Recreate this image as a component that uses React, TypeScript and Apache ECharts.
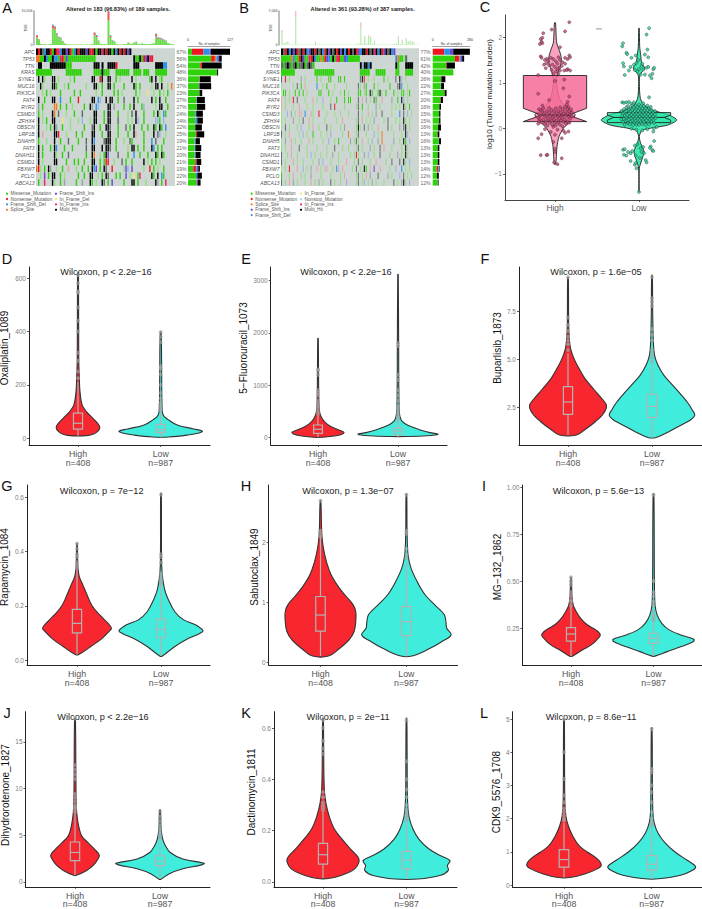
import React, { useEffect, useRef } from "react";
import * as echarts from "echarts";

// ---------- Oncoplot data ----------
const genesA = ["APC","TP53","TTN","KRAS","SYNE1","MUC16","PIK3CA","FAT4","RYR2","CSMD3","ZFHX4","OBSCN","LRP1B","DNAH5","FAT3","DNAH11","CSMD1","FBXW7","PCLO","ABCA13"];
const pctA = ["67%","56%","54%","48%","36%","37%","23%","27%","27%","24%","24%","22%","25%","19%","21%","20%","21%","19%","22%","20%"];
const pctB = ["77%","61%","42%","40%","26%","22%","27%","20%","16%","15%","15%","16%","13%","16%","13%","13%","13%","14%","12%","12%"];

const matrixA = [
  "xnxgdxxnmxnpdxxixnmdxnxxxixnnxmxxpxnxxmxdxnxnxix",
  "ssmmxdmmxddmpnmimmmmmmmmmmmmmm...................xmmxmnixpn",
  ".xx....xxxxxxxxmmm...........xxx.x..xxxxn........xxx........xxxxdd",
  "mmmmmmmm.......mmmmmmmm......mmmmxmmm...mmmmmmm..mmmm.mmm...mmmmmm",
  ".x.xl...xx.l.....l.m........xx..nx..xx..m.l.....x.l......mx.x.lm",
  "..xl....xxm...l.m........l...xxl.m..xx.m....m....xm.m.....l.xx.x..l.s",
  "...l.m.l....m......m..m.......l..m.....m.m.l......m.l...y..l..m.l.m..",
  ".x..m...xx..d....m...n......xx.db..x.xx..m..g....x.m......x.m.x..m",
  ".h.m.....ss.m..m..l.....m..xh.db....xx.h....m..m.x...mb.....l.xx..m.",
  ".m.l....xs.g...l...m...g.....xx...m.xx...m....l.g.x...m....m.xl.dm..",
  ".x.l.m..xx...y...l...l.b...l.xx...m.xx...g....l.l.xb..m.....bbm.b..",
  ".x...l.m.xh..m...l......m...gx..m..xxg...m...g.m.x...m..m..xm.xm.d.",
  ".x.r.....xxn...l....m..m....xx...m..xx...m....m..xr...m....x.gb..l.",
  ".m...l...x..m...g....m...g..xd....gxxx..m...l..gm.....m...d.g...m..",
  ".x.m...m.xd...m...m......g..xx...x.xxg..m.....l.xx.m..m...xd.m.m...",
  ".x.m.....xl..m..g........m..xs..l.mxi....g....m..d..m...m...xm.xm..",
  ".x.l.....xx....m...m.m..m...xx..m.mnn..l...g.m..m.....x.l.m.m.l....",
  "snl.m.xh..l..m..r...l..m..m.xdi.m.xg..n.....lib.i.....l..n.m.l..m..",
  "..l.i.m.xx..m.l......m..m..xx..l.m.xg...m.m..i.l.y.mp.....xm.x.dm..",
  ".m..p...xl..m.h.....m..h...xm.l..xg.m.i.....m...xx.m...l....xh.m.p.",
];

const matrixB = [
  "xgnxdxixngxnxdixxnxgxdnxixgxnxixdxnxgxnidxxnxgxpxdxnixgxdi",
  "mmmmmsdmmnximmpnxdmmsmnidmxmpnmmidmmmmmm..................dsmmlg",
  "gmgxgmgxmggxmgxgm.......................xbxxdx............xm...xxxx",
  "mmmmmmm..........mmmmmmmmmm.............mmmmm...mmmmm.....mm...mmmm",
  "g.n.l.....h.l.....m.l...mm...mm.m.......gxn.l..l....m.l...g.xb.l...",
  "l.....l.g.m.r.....d..l.m...l.....l.....gl.hm...m.l.....m...gxd..l..",
  ".mm.l..m.m.m.l.....mm...m.l...l.m.l....mm.lm.xm..mxl.m...m.l.mm.lm.",
  "r.l.l.n.g...l...r.l..b...l..m...m.mm...g.r.h.l.gm..r....h..m.xb.l..",
  "r.l...l..r...l..l....l...g.n....l.....lg.m..l...h.l.....l.l.l.xl.m.",
  "l..b.h.l.rr.d..rl..n...l...l..l...l....g.l..r.l.h..g....l...d.g.b.l",
  "l.l...h..l.g..r.l.....l.....l..r......lg.r.l.l.h....l.g...l.l.xl.l.",
  "l.g.l...l.b...l.r..l...g.l....l.h.....lxl.g.h.l..r....g.l...h.gx.l.",
  "g.l.r....l.b.l..m...l..l.q.....l..s...lg...l...b.l.s.....l...l.xb..",
  "l.h..r.l..l...r.l....l..b..l.m.....h.lgl.r..l.b..h.s.....h..l.xm.b.",
  "l.l..r...g...l....l....l...g...l..l...lg.l...h.l..g.r...l....l.xl..",
  "g..l.r..l....l.b.l..l..l..h..l.....l.lnl..h.b..l..g....l...h.l.xl..",
  "g.l...r.l..l....l..h.b...l...l...r...l.g.l...l..r....l..g...g.xl.b.",
  "l.l.n...r..b.l.h..r.l.rr..l.dr.r....l.g.l.xm.r.i..r....l..b..d.l.l.",
  "m...l.r...l.l..h....l....l....l.r.....lg.l.r.h...g....h.l...b.g.l.l",
  "g.l.r.h.l...l..r.l.h.l...g.l..l..q....lg.lb.l.h.l...l....g.l.hxl.q.",
];

const mutationPalette: Record<string, string> = {
  m: "#2fd10a", l: "#93e07f", n: "#ee1522", d: "#2a8fe6", i: "#6a45d6", s: "#f07a1e", y: "#ecec6a",
  p: "#e8206f", x: "#000000", g: "#5f6a66", h: "#98a3a0", b: "#93b4e6", r: "#e3a6a6", q: "#aea2e0",
};

const tmbAMissense = [2300,1500,300,200,250,150,200,300,5200,4800,3200,2400,2000,1100,500,250,200,150,150,200,150,150,200,150,150,200,150,200,300,3000,2400,1200,400,300,300,250,7600,2400,1300,1100,300,200,150,150,300,250,700,350,400,700,900,300,250,500,300,300,250,300,400,500,2600,1900,2000,1700,1500,1200,600,300,250,150];
const tmbANonsense = [700,200,0,0,0,0,0,0,900,700,300,100,100,50,0,0,0,0,0,0,0,0,0,0,0,0,0,0,0,800,400,100,0,0,0,0,2700,400,100,50,0,0,0,0,0,0,50,0,0,50,50,0,0,0,0,0,0,0,0,0,800,300,200,150,100,100,0,0,0,0];
const tmbADel = [100,50,0,0,0,0,0,0,200,300,200,100,200,100,0,0,0,0,0,0,0,0,0,0,0,0,0,0,0,100,300,100,0,0,0,0,200,200,100,100,0,0,0,0,0,0,50,0,0,50,100,0,0,0,0,0,0,0,0,0,100,200,100,200,100,100,0,0,0,0];
const tmbBMissense = [2500,300,500,600,150,100,100,5800,150,100,80,100,100,80,100,100,150,600,100,80,100,80,100,80,100,100,80,100,80,100,80,100,80,100,80,100,80,100,200,300,3600,300,1700,300,1800,1500,250,700,150,100,100,150,100,150,100,100,150,200,300,1400,200,900,150,1200,600,700,600,500,100,80];
const tmbBNonsense = [500,50,50,50,0,0,0,1200,0,0,0,0,0,0,0,0,0,50,0,0,0,0,0,0,0,0,0,0,0,0,0,0,0,0,0,0,0,0,0,0,1000,0,200,0,250,200,0,100,0,0,0,0,0,0,0,0,0,0,0,150,0,100,0,150,50,50,50,50,0,0];
const tmbBDel = [100,0,0,0,0,0,0,60,0,0,0,0,0,0,0,0,0,0,0,0,0,0,0,0,0,0,0,0,0,0,0,0,0,0,0,0,0,0,0,0,60,0,30,0,30,30,0,20,0,0,0,0,0,0,0,0,0,0,0,200,0,100,0,100,120,120,100,80,0,0];

const samplesAMissense = [12,70,37,88,35,33,35,25,27,22,22,22,24,20,20,20,22,16,24,25];
const samplesANonsense = [35,11,5,0,1,0,0,0,0,0,0,0,3,0,0,0,4,8,0,1];
const samplesASplice = [0,5,0,0,0,0,0,0,0,0,0,0,0,0,0,0,0,0,0,0];
const samplesADel = [18,5,0,0,0,0,0,2,0,3,6,0,0,3,2,3,0,2,4,0];
const samplesAIns = [4,3,0,0,0,2,0,0,0,0,0,0,0,0,0,0,0,5,0,3];
const samplesAMulti = [58,8,60,3,33,35,8,24,25,20,17,20,22,13,18,15,14,5,14,9];
const samplesBMissense = [0,167,100,155,62,60,90,58,50,48,48,40,35,45,38,38,38,30,32,38];
const samplesBNonsense = [87,30,5,0,3,0,0,2,0,0,0,0,3,0,0,0,0,12,0,0];
const samplesBSplice = [0,6,0,0,0,0,0,0,0,0,0,0,0,0,0,0,0,0,0,0];
const samplesBDel = [42,8,0,0,0,3,0,0,0,0,0,0,0,2,0,0,0,4,0,0];
const samplesBIns = [25,10,0,0,0,0,0,0,0,0,0,0,0,0,0,0,0,5,0,4];
const samplesBMulti = [125,15,62,0,30,22,14,17,12,10,10,22,12,15,12,12,12,3,14,4];

const legendA = [["Missense_Mutation","m"],["Nonsense_Mutation","n"],["Frame_Shift_Del","d"],["Splice_Site","s"],["Frame_Shift_Ins","i"],["In_Frame_Del","y"],["In_Frame_Ins","p"],["Multi_Hit","x"]];
const legendB = [["Missense_Mutation","m"],["Nonsense_Mutation","n"],["Splice_Site","s"],["Frame_Shift_Ins","i"],["Frame_Shift_Del","d"],["In_Frame_Del","y"],["Nonstop_Mutation","b"],["In_Frame_Ins","p"],["Multi_Hit","x"]];

// ---------- Panel C data ----------
const tmbHighProfile = [[-0.79,0.008],[-0.62,0.016],[-0.4,0.024],[-0.18,0.048],[0,0.1],[0.15,0.18],[0.3,0.24],[0.4,0.16],[0.63,0.06],[0.85,0.028],[1.07,0.02],[1.25,0.04],[1.43,0.072],[1.58,0.072],[1.73,0.048],[1.88,0.02],[2.1,0.012],[2.32,0.006]];
const tmbLowProfile = [[-1.4,0.002],[-0.88,0.004],[-0.7,0.032],[-0.51,0.06],[-0.33,0.02],[-0.18,0.004],[-0.04,0.04],[0.07,0.34],[0.18,0.45],[0.29,0.36],[0.4,0.16],[0.51,0.06],[0.66,0.016],[0.99,0.004],[1.18,0.012],[1.32,0.068],[1.43,0.032],[1.62,0.02],[1.8,0.008],[2.2,0.003]];
const tmbHighBox = [0.147, 0.147, 0.29, 0.44, 1.16];
const tmbLowBox = [0.125, 0.18, 0.24, 0.29, 0.345];
const tmbHighJitter = [[.17,2.33],[-.14,2.09],[-.04,2.17],[.12,2.13],[.06,1.78],[-.17,1.96],[-.16,1.9],[-.15,1.87],[-.18,1.85],[-.15,1.99],[-.17,1.58],[-.16,1.55],[-.12,1.5],[-.1,1.53],[-.08,1.48],[-.05,1.55],[-.02,1.52],[.01,1.47],[.04,1.56],[.06,1.5],[.09,1.45],[.12,1.55],[.17,1.6],[.18,1.56],[.15,1.52],[-.13,1.4],[-.1,1.43],[-.07,1.38],[-.03,1.4],[0,1.35],[.03,1.42],[.05,1.33],[.08,1.37],[.12,1.42],[.15,1.3],[-.11,1.32],[-.04,1.28],[.01,1.25],[.03,1.3],[.06,1.27],[.11,1.27],[.14,1.28],[.18,1.27],[-.02,1.2],[.04,1.2],[-.2,1.17],[0,1.04],[.11,1.07],[.1,.88],[-.2,.76],[-.07,.62],[.17,.7],[.15,.58],[.14,.52],[.16,.47],[-.15,.5],
[-.19,.42],[-.17,.4],[-.15,.36],[-.19,.31],[-.17,.28],[-.2,.24],[-.18,.2],[-.19,.15],[-.16,.13],[-.2,.1],[-.14,.44],[-.13,.33],[-.12,.26],[-.14,.19],[-.12,.1],[-.1,.38],[-.1,.29],[-.09,.21],[-.11,.14],[-.09,.06],[-.07,.45],[-.07,.35],[-.06,.27],[-.07,.19],[-.06,.12],[-.04,.4],[-.04,.31],[-.03,.23],[-.04,.16],[-.03,.07],[-.02,.03],[-.01,.37],[0,.28],[-.01,.2],[0,.12],[.01,.44],[.02,.33],[.03,.25],[.02,.16],[.01,.06],[.04,.38],[.05,.29],[.05,.21],[.04,.12],[.06,.46],[.07,.35],[.08,.27],[.07,.17],[.06,.08],[.09,.42],[.1,.32],[.09,.23],[.1,.14],[.09,.04],[.12,.47],[.12,.37],[.13,.28],[.12,.19],[.13,.1],[.15,.43],[.15,.33],[.16,.25],[.15,.15],[.17,.38],[.18,.3],[.18,.22],[.19,.42],[.2,.35],[.2,.27],[.17,.12],
[-.2,-.22],[-.16,-.13],[-.17,-.59],[-.1,-.59],[-.09,-.58],[.08,-.66],[.03,-.79],[-.01,-.75],[.16,-.07],[.12,-.1],[.08,-.22],[.1,-.05],[-.12,-.02],[-.05,-.08],[0,-.14],[.03,-.03],[-.02,-.3],[0,-.45],[0,-.52]];
const tmbLowJitter = [[-.19,1.87],[-.2,1.8],[-.15,1.66],[-.14,1.63],[-.09,1.55],[-.04,1.6],[.09,2.06],[.12,2.2],[.1,1.73],[.07,1.62],[.11,1.56],[-.19,1.43],[-.18,1.36],[-.17,1.17],[.17,1.3],[.18,1.33],[.16,1.2],[.15,1.1],[.13,1.16],[.11,1.35],[.09,1.33],[-.1,1.35],[-.06,1.4],[-.03,1.44],[0,1.3],[-.02,1.25],[.03,1.37],[.05,1.29],[.02,1.18],[-.05,1.28],[.07,1.18],[-.12,1.27],[.04,1.42],[-.01,1.5],
[-.2,.57],[-.18,.56],[-.15,.57],[-.12,.58],[-.09,.54],[-.06,.57],[.12,.68],[.05,.55],[.1,.5],[-.21,.38],[-.19,.33],[-.2,.27],[-.21,.2],[-.19,.14],[-.18,.42],[-.17,.36],[-.17,.28],[-.18,.21],[-.16,.16],[-.17,.08],[-.15,.46],[-.15,.38],[-.14,.3],[-.15,.24],[-.14,.17],[-.13,.11],[-.13,.49],[-.12,.41],[-.12,.33],[-.11,.25],[-.12,.19],[-.11,.09],[-.1,.44],[-.1,.37],[-.09,.29],[-.09,.22],[-.1,.14],[-.08,.5],[-.08,.41],[-.07,.34],[-.07,.26],[-.08,.17],[-.07,.07],[-.06,.46],[-.05,.38],[-.05,.3],[-.05,.22],[-.06,.13],[-.04,.5],[-.03,.42],[-.03,.33],[-.03,.25],[-.04,.16],[-.03,.08],[-.02,.47],[-.01,.38],[-.01,.3],[-.01,.21],[-.02,.12],[0,.52],[.01,.43],[.01,.34],[.01,.26],[.01,.18],[0,.08],[.02,.48],[.03,.39],[.03,.29],[.03,.22],[.02,.13],[.04,.44],[.05,.35],[.05,.27],[.05,.18],[.04,.09],[.06,.49],[.07,.4],[.07,.31],[.07,.23],[.06,.14],[.08,.44],[.09,.35],[.09,.26],[.09,.17],[.08,.07],[.1,.4],[.11,.31],[.11,.22],[.11,.13],[.12,.44],[.13,.36],[.13,.27],[.13,.19],[.12,.09],[.15,.4],[.15,.31],[.15,.22],[.15,.14],[.17,.35],[.17,.26],[.17,.18],[.19,.3],[.2,.23],[.18,.12],[.19,.38],[.14,.47],[.21,.03],[.18,.0],[.17,-.07],[.1,-.02],[-.03,-.03],[-.09,-.01],[.04,-.05],[.18,-.28],[.14,-.4],[.13,-.43],[.16,-.48],[.17,-.5],
[-.19,-.47],[-.17,-.46],[-.18,-.58],[-.13,-.52],[-.1,-.55],[-.08,-.5],[-.05,-.38],[-.02,-.35],[.02,-.44],[.05,-.41],[-.04,-.6],[.01,-.65],[.06,-.55],[-.1,-.72],[-.05,-.8],[-.04,-.76],[-.03,-.88],[.08,-.7],[.09,-.75],[.0,-1.4],[-.15,-.6],[.03,-.52]];

// ---------- Drug violin data: [drug value, half width] ----------
const oxaliplatinHigh = [[10,0.1],[15,0.18],[25,0.235],[40,0.264],[55,0.24],[75,0.18],[100,0.1],[125,0.05],[175,0.024],[225,0.016],[300,0.009],[600,0.006],[620,0.002]];
const oxaliplatinLow = [[5,0.1],[12,0.32],[20,0.465],[27,0.504],[35,0.4],[50,0.2],[70,0.09],[87,0.03],[125,0.016],[225,0.012],[398,0.006]];
const oxaliplatinHighBox = [10,34,56,94,212];
const oxaliplatinLowBox = [5,22,32,52,100];
const oxaliplatinHighOut = [225,250,290,320,400,440,490,545,550,580,610];
const oxaliplatinLowOut = [105,115,125,135,150,170,200,240,260,270,360,380,398];

const fluorouracilHigh = [[0,0.05],[25,0.2],[60,0.3],[96,0.325],[140,0.26],[205,0.16],[300,0.08],[395,0.04],[490,0.02],[750,0.01],[1895,0.003]];
const fluorouracilLow = [[15,0.1],[30,0.36],[57,0.5],[90,0.4],[140,0.28],[205,0.16],[270,0.08],[330,0.04],[490,0.016],[1770,0.008],[3120,0.003]];
const fluorouracilHighBox = [0,76,153,236,427];
const fluorouracilLowBox = [0,45,121,179,330];
const fluorouracilHighOut = [450,500,550,600,650,700,800,850,900,1200,1280,1300];
const fluorouracilLowOut = [350,400,450,500,550,600,700,800,900,1100,1200,1750,1800];

const buparlisibHigh = [[1.08,0.1],[1.42,0.22],[1.77,0.325],[2.12,0.41],[2.47,0.455],[2.67,0.455],[2.99,0.4],[3.5,0.3],[4.03,0.2],[4.55,0.13],[5.07,0.07],[5.59,0.03],[6.1,0.016],[6.8,0.008],[9.3,0.004]];
const buparlisibLow = [[0.95,0.05],[1.25,0.2],[1.6,0.35],[1.9,0.47],[2.12,0.51],[2.38,0.48],[2.73,0.43],[3.16,0.35],[3.68,0.245],[4.2,0.14],[4.72,0.07],[5.24,0.03],[5.94,0.016],[7.5,0.008],[9.4,0.004]];
const buparlisibHighBox = [1.08,2.15,2.8,3.6,5.33];
const buparlisibLowBox = [0.95,2.0,2.57,3.2,4.8];
const buparlisibHighOut = [5.5,5.8,6.0,6.2,6.5,6.8,7.2,9.3];
const buparlisibLowOut = [4.9,5.1,5.3,5.5,6,6.3,6.6,7.8,8,8.2,9.3];

const rapamycinHigh = [[0.02,0.02],[0.05,0.165],[0.08,0.3],[0.105,0.38],[0.117,0.41],[0.135,0.37],[0.166,0.27],[0.2,0.18],[0.24,0.12],[0.277,0.07],[0.31,0.025],[0.36,0.009],[0.43,0.004]];
const rapamycinLow = [[0.015,0.016],[0.05,0.165],[0.08,0.33],[0.098,0.46],[0.108,0.5],[0.13,0.41],[0.148,0.27],[0.178,0.165],[0.228,0.08],[0.264,0.04],[0.326,0.012],[0.4,0.006],[0.615,0.004]];
const rapamycinHighBox = [0.02,0.1,0.135,0.187,0.335];
const rapamycinLowBox = [0.015,0.082,0.113,0.151,0.277];
const rapamycinHighOut = [0.34,0.35,0.36,0.38,0.39,0.41,0.43];
const rapamycinLowOut = [0.28,0.29,0.3,0.31,0.32,0.36,0.38,0.39,0.61];

const sabutoclaxHigh = [[0.105,0.093],[0.23,0.22],[0.37,0.33],[0.51,0.39],[0.68,0.41],[0.85,0.41],[0.96,0.38],[1.1,0.3],[1.24,0.22],[1.46,0.125],[1.68,0.07],[1.9,0.035],[2.13,0.016],[2.71,0.004]];
const sabutoclaxLow = [[0.105,0.065],[0.23,0.27],[0.345,0.41],[0.457,0.52],[0.57,0.47],[0.68,0.46],[0.8,0.44],[0.96,0.33],[1.125,0.22],[1.35,0.125],[1.57,0.055],[1.79,0.02],[2.18,0.008],[2.82,0.004]];
const sabutoclaxHighBox = [0.105,0.52,0.79,1.1,2.1];
const sabutoclaxLowBox = [0.1,0.445,0.68,0.93,1.68];
const sabutoclaxHighOut = [2.1,2.15,2.2,2.7];
const sabutoclaxLowOut = [1.75,1.8,1.9,2.15,2.2,2.8];

const mg132High = [[0.1,0.016],[0.133,0.137],[0.16,0.245],[0.186,0.31],[0.213,0.355],[0.24,0.3],[0.266,0.2],[0.3,0.12],[0.337,0.065],[0.372,0.027],[0.425,0.011],[0.52,0.005]];
const mg132Low = [[0.1,0.016],[0.124,0.165],[0.15,0.33],[0.177,0.48],[0.19,0.49],[0.213,0.33],[0.24,0.19],[0.275,0.1],[0.32,0.044],[0.372,0.019],[0.5,0.011],[0.966,0.005]];
const mg132HighBox = [0.1,0.18,0.218,0.252,0.363];
const mg132LowBox = [0.1,0.168,0.195,0.222,0.284];
const mg132HighOut = [0.37,0.39,0.4,0.42,0.44,0.48,0.5,0.52];
const mg132LowOut = [0.29,0.3,0.31,0.32,0.34,0.37,0.39,0.42,0.44,0.5,0.96];

const dihydrorotenoneHigh = [[0.7,0.016],[1.22,0.137],[1.82,0.22],[2.45,0.27],[2.87,0.285],[3.5,0.23],[4.2,0.153],[4.9,0.08],[5.95,0.044],[7,0.025],[8,0.016],[10.5,0.011],[17.5,0.005]];
const dihydrorotenoneLow = [[0.28,0.011],[0.875,0.11],[1.4,0.27],[1.82,0.49],[2,0.52],[2.45,0.27],[3.15,0.12],[3.85,0.065],[4.55,0.033],[5.6,0.014],[7.7,0.005]];
const dihydrorotenoneHighBox = [0.7,2.27,3.15,4.27,7.35];
const dihydrorotenoneLowBox = [0.3,1.75,2.2,2.8,4.55];
const dihydrorotenoneHighOut = [7.5,7.8,8,8.2,8.6,9,9.4,11,11.5,12,12.5,17.5];
const dihydrorotenoneLowOut = [4.7,5,5.3,5.6,6,6.5,7,7.6];

const dactinomycinHigh = [[0.014,0.08],[0.032,0.27],[0.051,0.38],[0.077,0.43],[0.096,0.42],[0.128,0.33],[0.166,0.23],[0.204,0.14],[0.255,0.075],[0.306,0.036],[0.358,0.016],[0.51,0.008],[0.638,0.004]];
const dactinomycinLow = [[0.011,0.137],[0.026,0.41],[0.045,0.5],[0.064,0.49],[0.083,0.52],[0.102,0.41],[0.128,0.27],[0.166,0.15],[0.204,0.08],[0.255,0.03],[0.32,0.012],[0.447,0.008],[0.638,0.004]];
const dactinomycinHighBox = [0.014,0.069,0.106,0.15,0.275];
const dactinomycinLowBox = [0.011,0.051,0.085,0.119,0.23];
const dactinomycinHighOut = [0.28,0.29,0.3,0.31,0.33,0.35,0.5,0.52,0.55,0.6,0.63];
const dactinomycinLowOut = [0.24,0.25,0.26,0.27,0.28,0.3,0.33,0.36,0.4,0.47,0.63];

const cdk9High = [[0.23,0.065],[0.345,0.245],[0.49,0.38],[0.61,0.425],[0.79,0.38],[0.99,0.27],[1.18,0.175],[1.48,0.1],[1.78,0.05],[2.07,0.022],[2.57,0.009],[5,0.004]];
const cdk9Low = [[0.19,0.08],[0.3,0.33],[0.44,0.46],[0.56,0.5],[0.74,0.41],[0.99,0.27],[1.28,0.15],[1.58,0.07],[1.88,0.028],[2.27,0.012],[4.74,0.004]];
const cdk9HighBox = [0.23,0.54,0.77,1.07,1.88];
const cdk9LowBox = [0.19,0.46,0.63,0.89,1.73];
const cdk9HighOut = [1.95,2,2.1,2.2,2.3,2.5,2.7,3.2,4,5];
const cdk9LowOut = [1.8,1.85,1.9,2,2.2,2.5,2.8,3,3.4,3.5,4.7];

const groupLabels = ["High\nn=408", "Low\nn=987"];

const drugPanels: any[] = [
  { letter:"D", drug:"Oxaliplatin_1089", p:"Wilcoxon, p < 2.2e\u221216", hi:oxaliplatinHigh, lo:oxaliplatinLow, hiBox:oxaliplatinHighBox, loBox:oxaliplatinLowBox, hiOut:oxaliplatinHighOut, loOut:oxaliplatinLowOut, ticks:[0,200,400,600], fmt:0 },
  { letter:"E", drug:"5\u2212Fluorouracil_1073", p:"Wilcoxon, p < 2.2e\u221216", hi:fluorouracilHigh, lo:fluorouracilLow, hiBox:fluorouracilHighBox, loBox:fluorouracilLowBox, hiOut:fluorouracilHighOut, loOut:fluorouracilLowOut, ticks:[0,1000,2000,3000], fmt:0 },
  { letter:"F", drug:"Buparlisib_1873", p:"Wilcoxon, p = 1.6e\u221205", hi:buparlisibHigh, lo:buparlisibLow, hiBox:buparlisibHighBox, loBox:buparlisibLowBox, hiOut:buparlisibHighOut, loOut:buparlisibLowOut, ticks:[2.5,5,7.5], fmt:1 },
  { letter:"G", drug:"Rapamycin_1084", p:"Wilcoxon, p = 7e\u221212", hi:rapamycinHigh, lo:rapamycinLow, hiBox:rapamycinHighBox, loBox:rapamycinLowBox, hiOut:rapamycinHighOut, loOut:rapamycinLowOut, ticks:[0,0.2,0.4,0.6], fmt:1 },
  { letter:"H", drug:"Sabutoclax_1849", p:"Wilcoxon, p = 1.3e\u221207", hi:sabutoclaxHigh, lo:sabutoclaxLow, hiBox:sabutoclaxHighBox, loBox:sabutoclaxLowBox, hiOut:sabutoclaxHighOut, loOut:sabutoclaxLowOut, ticks:[0,1,2], fmt:0 },
  { letter:"I", drug:"MG\u2212132_1862", p:"Wilcoxon, p = 5.6e\u221213", hi:mg132High, lo:mg132Low, hiBox:mg132HighBox, loBox:mg132LowBox, hiOut:mg132HighOut, loOut:mg132LowOut, ticks:[0.25,0.5,0.75,1], fmt:2 },
  { letter:"J", drug:"Dihydrorotenone_1827", p:"Wilcoxon, p < 2.2e\u221216", hi:dihydrorotenoneHigh, lo:dihydrorotenoneLow, hiBox:dihydrorotenoneHighBox, loBox:dihydrorotenoneLowBox, hiOut:dihydrorotenoneHighOut, loOut:dihydrorotenoneLowOut, ticks:[0,5,10,15], fmt:0 },
  { letter:"K", drug:"Dactinomycin_1811", p:"Wilcoxon, p = 2e\u221211", hi:dactinomycinHigh, lo:dactinomycinLow, hiBox:dactinomycinHighBox, loBox:dactinomycinLowBox, hiOut:dactinomycinHighOut, loOut:dactinomycinLowOut, ticks:[0,0.2,0.4,0.6], fmt:1 },
  { letter:"L", drug:"CDK9_5576_1708", p:"Wilcoxon, p = 8.6e\u221211", hi:cdk9High, lo:cdk9Low, hiBox:cdk9HighBox, loBox:cdk9LowBox, hiOut:cdk9HighOut, loOut:cdk9LowOut, ticks:[0,1,2,3,4,5], fmt:0 },
];

// Layout (pixels), separate from the data.
const drugLayout: any[] = [
  { l:29, r:210, t:267, b:445, hx:78, lx:160.7, cal:[0,438.3,600,278], lab:[3.5,348], pc:[106,272], let:[2,259] },
  { l:270.7, r:447, t:267, b:445, hx:318, lx:398, cal:[0,437.3,3000,280.7], lab:[242,348], pc:[346,272], let:[241,259] },
  { l:519, r:702, t:267, b:445, hx:568, lx:652, cal:[2.5,407.7,7.5,311.7], lab:[496,348], pc:[596,272], let:[480,259] },
  { l:27, r:210, t:485, b:665, hx:77, lx:161, cal:[0,660,0.6,497.3], lab:[3.5,567], pc:[101.6,491], let:[2,486] },
  { l:268.6, r:457.5, t:485, b:665, hx:320.5, lx:406.4, cal:[0,662.3,2,542.7], lab:[253,567], pc:[348,491], let:[241,486] },
  { l:522.4, r:702, t:485, b:665, hx:571, lx:653.5, cal:[0.25,628,1,487.3], lab:[496,567], pc:[598.5,491], let:[479,486] },
  { l:25.5, r:210, t:711.7, b:890, hx:75, lx:160, cal:[0,885,15,742.3], lab:[4.5,795], pc:[103,717], let:[2,713] },
  { l:274, r:457, t:711.7, b:890, hx:323, lx:406.5, cal:[0,885,0.6,728.3], lab:[250.7,792], pc:[348,717], let:[241,713] },
  { l:512.5, r:702, t:711.7, b:890, hx:564, lx:651.7, cal:[0,888.3,5,719.3], lab:[495.5,792], pc:[591,717], let:[479,713] },
];

const FONT = "'Liberation Sans', Arial, sans-serif";

function buildOption(): any {
  const grid: any[] = [], xAxis: any[] = [], yAxis: any[] = [], series: any[] = [], graphic: any[] = [];
  const text = (t: string, x: number, y: number, size: number, color: string, extra: any = {}, rotation = 0) =>
    graphic.push({ type: "text", x, y, rotation, silent: true, style: { text: t, fill: color, fontSize: size, fontFamily: FONT, textAlign: "center", textVerticalAlign: "middle", ...extra } });

  // Oncoplots
  const onco = (cfg: any) => {
    const { L, R, title, titleX, matrix, pct, maxTmb, tmb, samples, maxS, barL, barR, legend, lx1, lx2, split, stripe } = cfg;
    const gm = grid.length;
    grid.push({ left: L, width: R - L, top: 48.3, height: 137.7, show: true, backgroundColor: "#cdd6d3", borderWidth: 0 });
    const xm = xAxis.length;
    xAxis.push({ gridIndex: gm, type: "value", min: 0, max: 70, show: false });
    const ym = yAxis.length;
    yAxis.push({ gridIndex: gm, type: "category", inverse: true, data: genesA, position: "left", axisLine: { show: false }, axisTick: { show: false }, axisLabel: { interval: 0, fontSize: 5, fontStyle: "italic", color: "#555", margin: 1.5, fontFamily: FONT } });
    yAxis.push({ gridIndex: gm, type: "category", inverse: true, data: pct, position: "right", axisLine: { show: false }, axisTick: { show: false }, axisLabel: { interval: 0, fontSize: 5, color: "#666", margin: 1.5, fontFamily: FONT } });
    const cells: any[] = [];
    matrix.forEach((row: string, r: number) => row.split("").forEach((c, i) => { if (c !== ".") cells.push([i, r, c]); }));
    series.push({
      type: "custom", xAxisIndex: xm, yAxisIndex: ym, silent: true, data: cells.map((c) => [c[0], c[1]]),
      renderItem: (p: any, api: any) => {
        const c = cells[p.dataIndex];
        const pt = api.coord([c[0], c[1]]);
        const s = api.size([1, 1]);
        const w = c[1] >= 4 ? s[0] * stripe : s[0];
        return { type: "rect", shape: { x: pt[0], y: pt[1] - s[1] / 2 + 0.15, width: w, height: s[1] - 0.3 }, style: { fill: mutationPalette[c[2]] } };
      },
    });
    const gt = grid.length;
    grid.push({ left: L, width: R - L, top: 11, height: 34 });
    const xt = xAxis.length;
    xAxis.push({ gridIndex: gt, type: "category", data: tmb[0].map((_: number, i: number) => i), show: false });
    const yt = yAxis.length;
    yAxis.push({ gridIndex: gt, type: "value", min: 0, max: maxTmb, offset: 2, axisLine: { show: true, lineStyle: { color: "#aaa", width: 1.5 } }, axisTick: { show: false }, splitLine: { show: false }, axisLabel: { customValues: [0, maxTmb], fontSize: 3.6, color: "#444", margin: 1.5, fontFamily: FONT } });
    tmb.forEach((d: number[], i: number) =>
      series.push({ type: "bar", stack: "tmb" + L, xAxisIndex: xt, yAxisIndex: yt, barWidth: cfg.tmbWidth, silent: true, data: d, itemStyle: { color: cfg.tmbColors[i] } }));
    const gr = grid.length;
    grid.push({ left: barL, width: barR - barL, top: 48.3, height: 137.7 });
    const xr = xAxis.length;
    xAxis.push({ gridIndex: gr, type: "value", min: 0, max: maxS, position: "top", offset: 2.5, axisLine: { show: true, lineStyle: { color: "#888", width: 0.8 } }, axisTick: { customValues: [0, maxS], length: 1.5, lineStyle: { color: "#888", width: 0.6 } }, splitLine: { show: false }, axisLabel: { customValues: [0, maxS], fontSize: 3.6, color: "#333", margin: 4, fontFamily: FONT } });
    const yr = yAxis.length;
    yAxis.push({ gridIndex: gr, type: "category", inverse: true, data: genesA, show: false });
    const colors = ["#2fd10a", "#ee1522", "#f07a1e", "#2a8fe6", "#6a45d6", "#000000"];
    const names = ["Missense_Mutation", "Nonsense_Mutation", "Splice_Site", "Frame_Shift_Del", "Frame_Shift_Ins", "Multi_Hit"];
    samples.forEach((d: number[], i: number) =>
      series.push({ type: "bar", name: names[i], stack: "s" + L, xAxisIndex: xr, yAxisIndex: yr, barWidth: 6.1, silent: true, data: d, itemStyle: { color: colors[i] } }));
    text(title, titleX, 9, 5.6, "#222", { fontWeight: "bold" });
    text("TMB", L - 10, 28, 3.4, "#444", {}, Math.PI / 2);
    text("No. of samples", (barL + barR) / 2, 43.5, 3.2, "#333");
    legend.forEach((it: any, i: number) => {
      const col2 = i >= split;
      const y = 193.7 + (col2 ? i - split : i) * 5.35;
      const mx = col2 ? lx2 : lx1;
      graphic.push({ type: "circle", silent: true, shape: { cx: mx, cy: y, r: 1.1 }, style: { fill: mutationPalette[it[1]] === "#93b4e6" ? "#8fdcf0" : mutationPalette[it[1]] } });
      text(it[0], mx + 3.6, y, 4.7, "#555", { textAlign: "left" });
    });
  };
  onco({ L: 36, R: 175, title: "Altered in 183 (96.83%) of 189 samples.", titleX: 118, matrix: matrixA, pct: pctA, maxTmb: 10506, tmb: [tmbAMissense, tmbANonsense, tmbADel], tmbWidth: 2, tmbColors: ["#6fdc52", "#f0555c", "#4b9fe6"], samples: [samplesAMissense, samplesANonsense, samplesASplice, samplesADel, samplesAIns, samplesAMulti], maxS: 127, barL: 188, barR: 230, legend: legendA, lx1: 7, lx2: 56, split: 4, stripe: 0.7 });
  onco({ L: 281, R: 419, title: "Altered in 361 (93.28%) of 387 samples.", titleX: 362.7, matrix: matrixB, pct: pctB, maxTmb: 7064, tmb: [tmbBMissense, tmbBNonsense, tmbBDel], tmbWidth: 0.9, tmbColors: ["#a5e898", "#f3a0a0", "#a0c8f0"], samples: [samplesBMissense, samplesBNonsense, samplesBSplice, samplesBDel, samplesBIns, samplesBMulti], maxS: 280, barL: 432.7, barR: 470, legend: legendB, lx1: 251.7, lx2: 301, split: 5, stripe: 0.5 });
  text("A", 7, 8, 14.5, "#111");
  text("B", 244, 8, 14.5, "#111");
  text("C", 485, 7, 14.5, "#111");

  const range = (l: any) => {
    const [v0, p0, v1, p1] = l.cal;
    const k = (v1 - v0) / (p0 - p1);
    const sp = l.lx - l.hx;
    return { ymin: v0 - (l.b - p0) * k, ymax: v0 + (p0 - l.t) * k, xmin: 1 - (l.hx - l.l) / sp, xmax: 2 + (l.r - l.lx) / sp };
  };
  const addPanelAxes = (l: any, ticks: number[], fmt: (v: number) => string, xLabels: string[], tickColor: string) => {
    const g = grid.length;
    const rg = range(l);
    grid.push({ left: l.l, width: l.r - l.l, top: l.t, height: l.b - l.t });
    xAxis.push({
      gridIndex: g, type: "value", min: rg.xmin, max: rg.xmax,
      axisLine: { show: true, onZero: false, lineStyle: { color: "#222", width: 1 } },
      axisTick: { show: true, customValues: [1, 2], length: 2, lineStyle: { color: "#333", width: 0.8 } },
      splitLine: { show: false },
      axisLabel: { customValues: [1, 2], formatter: (v: number) => xLabels[Math.round(v) - 1], fontSize: 8.8, lineHeight: 8.8, color: "#555", margin: 4.5, fontFamily: FONT },
    });
    yAxis.push({
      gridIndex: g, type: "value", min: rg.ymin, max: rg.ymax,
      axisLine: { show: true, onZero: false, lineStyle: { color: "#222", width: 1 } },
      axisTick: { show: true, customValues: ticks, length: 2, lineStyle: { color: "#333", width: 0.8 } },
      splitLine: { show: false },
      axisLabel: { customValues: ticks, formatter: fmt, fontSize: 6.5, color: tickColor, margin: 3, fontFamily: FONT },
    });
    return { x: xAxis.length - 1, y: yAxis.length - 1 };
  };
  const violin = (ax: any, profile: number[][], cat: number, fill: string, stroke: string, lw: number, smooth = 0.38) => series.push({
    type: "custom", xAxisIndex: ax.x, yAxisIndex: ax.y, silent: true, clip: false, data: [[cat, profile[0][0]]],
    renderItem: (_: any, api: any) => {
      const a = profile.map(([v, w]) => api.coord([cat - w, v]));
      const b = [...profile].reverse().map(([v, w]) => api.coord([cat + w, v]));
      return { type: "polygon", shape: { points: [...a, ...b], smooth }, style: { fill, stroke, lineWidth: lw } };
    },
  });
  const box = (ax: any, b: number[], cat: number, color: string) => series.push({
    type: "custom", xAxisIndex: ax.x, yAxisIndex: ax.y, silent: true, data: [[cat, b[2]]],
    renderItem: (_: any, api: any) => {
      const hw = 0.055;
      const seg = (x1: number, y1: number, x2: number, y2: number) => {
        const p = api.coord([x1, y1]), q = api.coord([x2, y2]);
        return { type: "line", shape: { x1: p[0], y1: p[1], x2: q[0], y2: q[1] }, style: { stroke: color, lineWidth: 1.2, fill: "none" } };
      };
      const tl = api.coord([cat - hw, b[3]]), br = api.coord([cat + hw, b[1]]);
      return { type: "group", children: [
        seg(cat, b[0], cat, b[1]), seg(cat, b[3], cat, b[4]),
        { type: "rect", shape: { x: tl[0], y: tl[1], width: br[0] - tl[0], height: br[1] - tl[1] }, style: { fill: "none", stroke: color, lineWidth: 1.2 } },
        seg(cat - hw, b[2], cat + hw, b[2]),
      ] };
    },
  });

  const cLayout = { l: 505, r: 689, t: 15, b: 200, hx: 555, lx: 639, cal: [0, 128.3, 2, 37.3] };
  const axC = addPanelAxes(cLayout, [-1, 0, 1, 2], (v: number) => (v < 0 ? "\u2212" + Math.abs(v) : String(v)), ["High", "Low"], "#7d7d7d");
  xAxis[axC.x].axisLine.lineStyle.color = "#444";
  yAxis[axC.y].axisLine.lineStyle.color = "#444";
  xAxis[axC.x].axisLabel.fontSize = 8.3;
  xAxis[axC.x].axisLabel.margin = 4;
  violin(axC, tmbHighProfile, 1, "#f8a2bf", "#222", 0.9, 0.25);
  violin(axC, tmbLowProfile, 2, "#3fe9b0", "#222", 0.9, 0.25);
  const notch = (b: number[], cat: number, fill: string, inner: number) => series.push({
    type: "custom", xAxisIndex: axC.x, yAxisIndex: axC.y, silent: true, data: [[cat, b[2]]],
    renderItem: (_: any, api: any) => {
      const hw = 0.377;
      const pts = [[cat - hw, b[0]], [cat + hw, b[0]], [cat + hw, b[1]], [cat + inner, b[2]], [cat + hw, b[3]], [cat + hw, b[4]], [cat - hw, b[4]], [cat - hw, b[3]], [cat - inner, b[2]], [cat - hw, b[1]]].map((q) => api.coord(q));
      const m1 = api.coord([cat - inner, b[2]]), m2 = api.coord([cat + inner, b[2]]);
      return { type: "group", children: [
        { type: "polygon", shape: { points: pts }, style: { fill, stroke: "#222", lineWidth: 0.9 } },
        { type: "line", shape: { x1: m1[0], y1: m1[1], x2: m2[0], y2: m2[1] }, style: { stroke: "#222", lineWidth: 1 } },
      ] };
    },
  });
  notch(tmbHighBox, 1, "rgba(244,106,150,0.85)", 0.16);
  notch(tmbLowBox, 2, "rgba(44,232,170,0.7)", 0.3);
  series.push({ type: "scatter", xAxisIndex: axC.x, yAxisIndex: axC.y, silent: true, symbolSize: 3, data: tmbHighJitter.map(([o, v]) => [1 + o, v]), itemStyle: { color: "#d0457c", borderColor: "#222", borderWidth: 0.5 } });
  series.push({ type: "scatter", xAxisIndex: axC.x, yAxisIndex: axC.y, silent: true, symbolSize: 3, data: tmbLowJitter.map(([o, v]) => [2 + o, v]), itemStyle: { color: "#2ad3a0", borderColor: "#222", borderWidth: 0.5 } });
  text("log10 (Tumor mutation burden)", 489, 94, 8, "#222", {}, Math.PI / 2);
  text("***", 599, 29.5, 5, "#777");

  drugPanels.forEach((pn, i) => {
    const l = drugLayout[i];
    const ax = addPanelAxes(l, pn.ticks, (v: number) => v.toFixed(pn.fmt), groupLabels, "#7d7d7d");
    violin(ax, pn.hi, 1, "#f8262e", "#333", 1.1);
    violin(ax, pn.lo, 2, "#40ecdc", "#333", 1.1);
    const out = (vals: number[], cat: number) => series.push({ type: "scatter", xAxisIndex: ax.x, yAxisIndex: ax.y, silent: true, symbolSize: 4, data: vals.map((v) => [cat, v]), itemStyle: { color: "#a8a8a8", opacity: 0.65 } });
    out(pn.hiOut, 1);
    out(pn.loOut, 2);
    box(ax, pn.hiBox, 1, "#b3b3b3");
    box(ax, pn.loBox, 2, "#b3b3b3");
    text(pn.drug, l.lab[0] + 1, l.lab[1], 10, "#111", {}, Math.PI / 2);
    text(pn.p, l.pc[0], l.pc[1], 9.2, "#222");
    text(pn.letter, l.let[0] + 5, l.let[1], 14.5, "#111");
  });

  return { animation: false, backgroundColor: "#fff", textStyle: { fontFamily: FONT }, grid, xAxis, yAxis, series, graphic };
}

export default function App() {
  const ref = useRef<HTMLDivElement>(null);
  useEffect(() => {
    const chart = echarts.init(ref.current!, null, { renderer: "svg" });
    chart.setOption(buildOption());
    return () => chart.dispose();
  }, []);
  return <div ref={ref} style={{ position: "absolute", left: 0, top: 0, width: 702, height: 909 }} />;
}
